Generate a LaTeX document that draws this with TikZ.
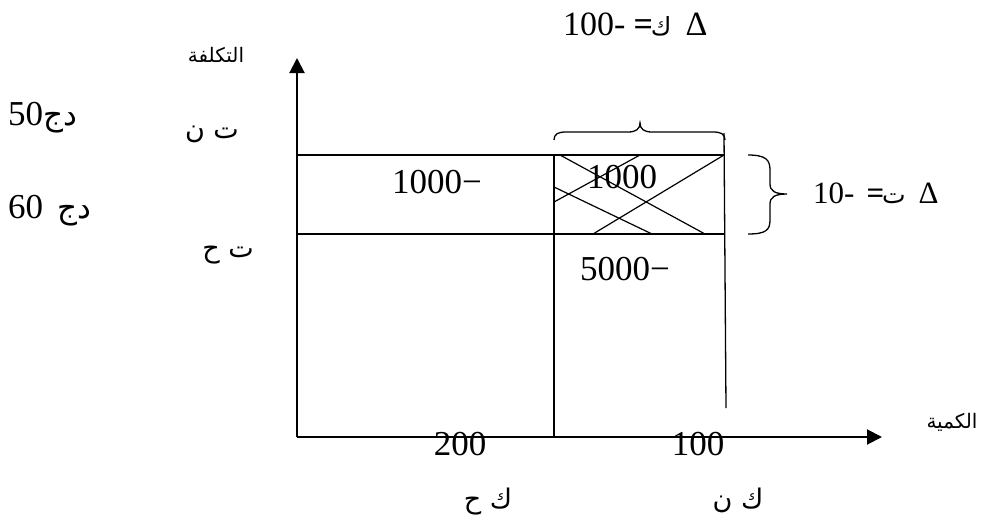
\documentclass[tikz,border=0pt]{standalone}
\usepackage{fontspec}
\setmainfont{Liberation Serif}
\newfontfamily\arabicfont[Script=Arabic]{DejaVu Sans}
\TeXXeTstate=1
\usetikzlibrary{arrows.meta}
\newcommand{\artxt}[1]{{\arabicfont\beginR #1\endR}}
\begin{document}
\begin{tikzpicture}[x=1pt,y=-1pt,
  axisline/.style={line width=2pt,-{Triangle[length=15pt,width=15pt]}},
  gridline/.style={line width=1.3pt},
  hatch/.style={line width=1.2pt},
  bracepath/.style={line width=1.3pt},
  num/.style={inner sep=0pt,anchor=base,font=\fontsize{35}{40}\selectfont},
  arlab/.style={inner sep=0pt,anchor=base,font=\fontsize{27}{30}\selectfont},
  arsmall/.style={inner sep=0pt,anchor=base,font=\fontsize{20}{24}\selectfont}]
\useasboundingbox (0,0) rectangle (985,528);

% key points
\coordinate (O) at (297,437);
\coordinate (Ytip) at (297,58);
\coordinate (Xtip) at (882,437);
\coordinate (TL) at (297,155);
\coordinate (TR) at (724,155);
\coordinate (BL) at (297,234);
\coordinate (BR) at (724,234);
\coordinate (MT) at (554,155);
\coordinate (MB) at (554,437);
\coordinate (RT) at (724,133);
\coordinate (RB) at (726,408);

% axes
\draw[axisline] (O) -- (Ytip);
\draw[axisline] (O) -- (Xtip);

% grid lines
\draw[gridline] (TL) -- (TR);
\draw[gridline] (BL) -- (BR);
\draw[gridline] (MT) -- (MB);
\draw[gridline] (RT) -- (RB);

% hatching in the box
\coordinate (h1a) at (560,155); \coordinate (h1b) at (705,234);
\coordinate (h2a) at (554,187); \coordinate (h2b) at (652,234);
\coordinate (h3a) at (724,155); \coordinate (h3b) at (593,234);
\coordinate (h4a) at (554,202); \coordinate (h4b) at (640,155);
\draw[hatch] (h1a) -- (h1b);
\draw[hatch] (h2a) -- (h2b);
\draw[hatch] (h3a) -- (h3b);
\draw[hatch] (h4a) -- (h4b);

% top brace
\draw[bracepath] (554,140) .. controls (554,134) and (558,132) .. (566,132)
  -- (628,132) .. controls (636,132) and (640,129) .. (640,123)
  .. controls (640,129) and (644,132) .. (652,132)
  -- (713,132) .. controls (721,132) and (725,134) .. (725,140);

% right brace
\draw[bracepath] (748,155) .. controls (766,155) and (770,160) .. (770,170)
  -- (770,184) .. controls (770,191) and (775,194) .. (787,194)
  .. controls (775,194) and (770,197) .. (770,204)
  -- (770,220) .. controls (770,230) and (766,234) .. (748,234);

% labels
\node[inner sep=0pt,anchor=base west,font=\fontsize{34}{40}\selectfont] (dk) at (563,35)
  {100-\hspace{8pt}{\bfseries =}\hspace{-2pt}{\fontsize{25}{28}\selectfont\artxt{ك}}\hspace{14pt}Δ};
\node[inner sep=0pt,anchor=base west,font=\fontsize{31}{36}\selectfont] (dt) at (813,203)
  {10-\hspace{12pt}{\bfseries =}\hspace{-2pt}{\fontsize{25}{28}\selectfont\artxt{ت}}\hspace{13pt}Δ};

\node[inner sep=0pt,anchor=base west,font=\fontsize{35}{40}\selectfont] (p50) at (8,125)
  {50{\fontsize{31}{34}\selectfont\artxt{دج}}};
\node[inner sep=0pt,anchor=base west,font=\fontsize{35}{40}\selectfont] (p60) at (8,218)
  {60\hspace{14pt}{\fontsize{31}{34}\selectfont\artxt{دج}}};

\node[arsmall] (cost) at (216,62) {\artxt{التكلفة}};
\node[arsmall] (qty) at (952,428) {\artxt{الكمية}};
\node[arlab] (tn) at (212,138) {\artxt{ت ن}};
\node[arlab] (th) at (228,257) {\artxt{ت ح}};
\node[arlab] (kh) at (488,508) {\artxt{ك ح}};
\node[arlab] (kn) at (738,508) {\artxt{ك ن}};

\node[num] (v1) at (437,193) {1000−};
\node[num] (v2) at (622,188) {1000};
\node[num] (v3) at (625,280) {5000−};
\node[num] (v4) at (460,455) {200};
\node[num] (v5) at (698,455) {100};
\end{tikzpicture}
\end{document}
